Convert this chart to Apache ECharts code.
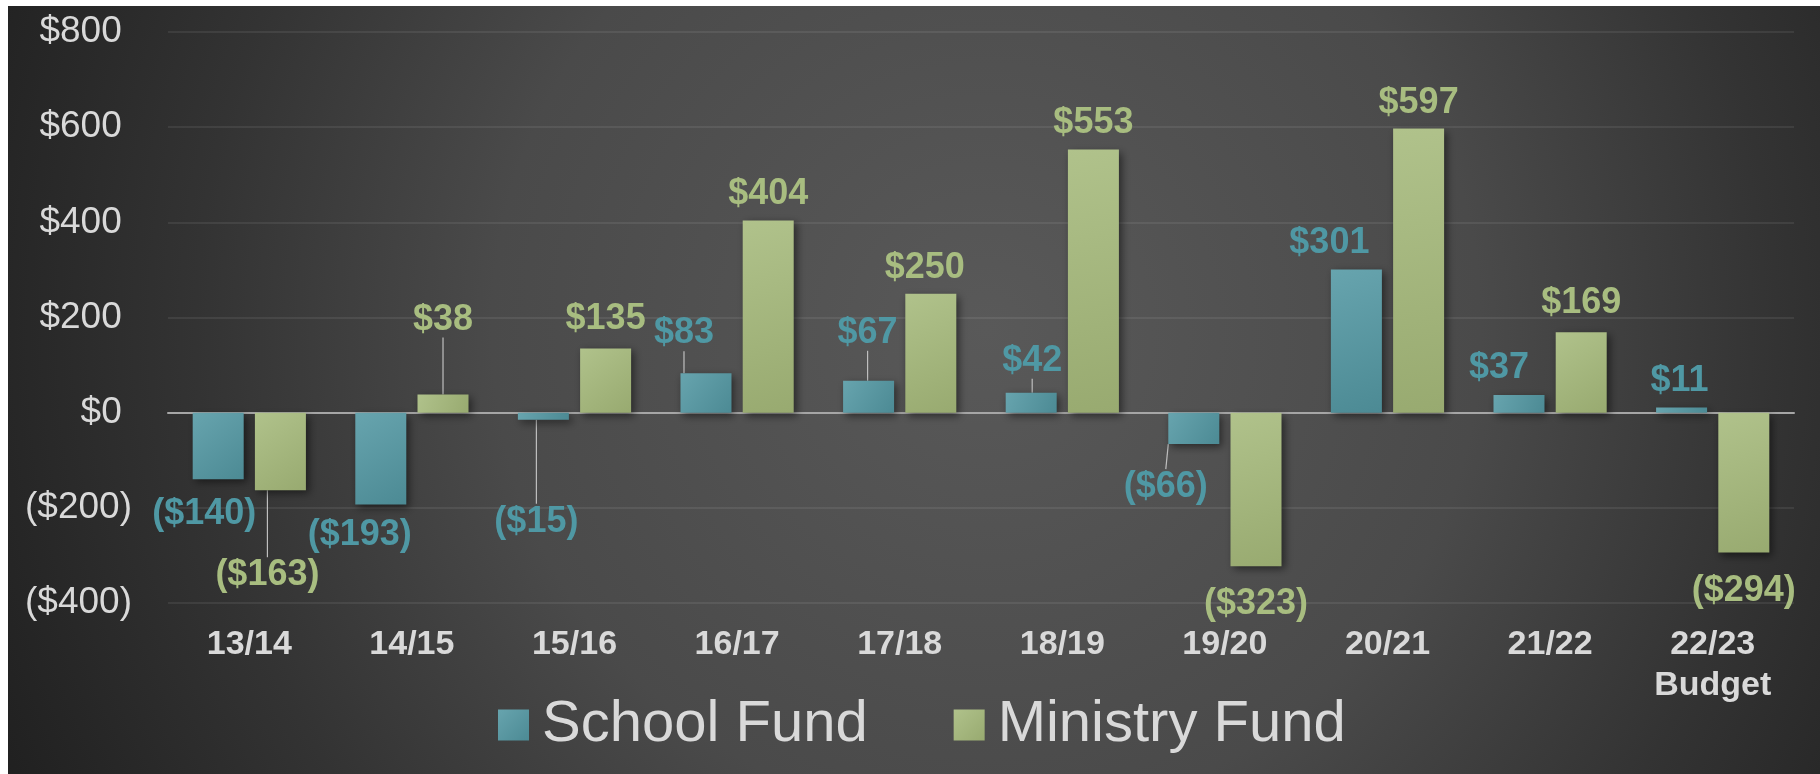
<!DOCTYPE html>
<html>
<head>
<meta charset="utf-8">
<script src="https://cdn.jsdelivr.net/npm/echarts@6/dist/echarts.min.js"></script>
<style>
  html, body { margin: 0; padding: 0; background: #fff; }
  #box { position: absolute; left: 8px; top: 6px; width: 1812px; height: 768px; }
</style>
</head>
<body>
<div id="box"></div>
<script>
var years = ['13/14', '14/15', '15/16', '16/17', '17/18', '18/19', '19/20', '20/21', '21/22', '22/23\nBudget'];
var schoolFund = [-140, -193, -15, 83, 67, 42, -66, 301, 37, 11];
var ministryFund = [-163, 38, 135, 404, 250, 553, -323, 597, 169, -294];
var yTicks = { min: -400, max: 800, step: 200 };

// where the labels were dragged to in the original (dx, dy), and which ones have a leader line
var schoolNudge = [[-14, 6], [-21, 2], [-7, 73], [-22, -11], [-1, -19], [1, -3], [-28, 14], [-27, 3], [-20, 2], [-2, 3]];
var ministryNudge = [[-13, 56], [0, -46], [0, 0], [0, 3], [-6, 3], [0, 3], [0, 9], [0, 3], [0, 0], [0, 10]];
var schoolLines = [2, 3, 4, 5, 6];
var ministryLines = [0, 1];

var font = '"Liberation Sans", Arial, sans-serif';

function money(v) {
  return v < 0 ? '($' + Math.abs(v) + ')' : '$' + v;
}

function items(values, lines) {
  return values.map(function(v, i) {
    if (lines.indexOf(i) < 0) return v;
    return { value: v, labelLine: { show: true, lineStyle: { color: '#bfbfbf', width: 1.2 } } };
  });
}

var chart = echarts.init(document.getElementById('box'));

option = {
  backgroundColor: {
    type: 'radial', x: 0.54, y: 0.42, r: 1.43,
    colorStops: [
      { offset: 0, color: '#595959' },
      { offset: 0.45, color: '#4a4a4a' },
      { offset: 0.72, color: '#333333' },
      { offset: 0.9, color: '#262626' },
      { offset: 1, color: '#1f1f1f' }
    ]
  },
  textStyle: { fontFamily: font },
  grid: { left: 160, right: 26, top: 26, bottom: 171 },
  legend: {
    left: 485,
    top: 685,
    icon: 'rect',
    itemWidth: 31,
    itemHeight: 31,
    itemGap: 86,
    textStyle: { color: '#d9d9d9', fontSize: 58, fontFamily: font, padding: [0, 0, 0, 8] },
    data: ['School Fund', 'Ministry Fund']
  },
  xAxis: {
    type: 'category',
    data: years,
    axisTick: { show: false },
    axisLine: { lineStyle: { color: '#a6a6a6', width: 2 } },
    axisLabel: {
      color: '#d9d9d9', fontSize: 34, fontWeight: 'bold', fontFamily: font,
      lineHeight: 41, margin: 21, interval: 0
    }
  },
  yAxis: {
    type: 'value',
    min: yTicks.min,
    max: yTicks.max,
    interval: yTicks.step,
    axisLine: { show: false },
    axisTick: { show: false },
    splitLine: { lineStyle: { color: 'rgba(255,255,255,0.1)', width: 1.5 } },
    axisLabel: {
      color: '#d9d9d9', fontSize: 37, fontFamily: font, margin: 36,
      formatter: function(v) { return v < 0 ? money(v) : money(v) + ' '; }
    }
  },
  labelLayout: function(p) {
    var n = (p.seriesIndex === 0 ? schoolNudge : ministryNudge)[p.dataIndex];
    return { dx: n[0], dy: n[1] };
  },
  series: [{
      name: 'School Fund',
      type: 'bar',
      barWidth: 51,
      barGap: '22%',
      data: items(schoolFund, schoolLines),
      itemStyle: {
        color: new echarts.graphic.LinearGradient(0, 0, 1, 1, [
          { offset: 0, color: '#67a4ae' }, { offset: 1, color: '#4c8a94' }
        ]),
        shadowBlur: 8, shadowColor: 'rgba(0,0,0,0.5)', shadowOffsetX: 3, shadowOffsetY: 3
      },
      label: {
        show: true, position: 'outside', distance: 11,
        color: '#4f98a4', fontSize: 36, fontWeight: 'bold', fontFamily: font,
        formatter: function(p) { return money(p.value); }
      }
    },
    {
      name: 'Ministry Fund',
      type: 'bar',
      barWidth: 51,
      barGap: '22%',
      data: items(ministryFund, ministryLines),
      itemStyle: {
        color: new echarts.graphic.LinearGradient(0, 0, 1, 1, [
          { offset: 0, color: '#b0c28b' }, { offset: 1, color: '#98aa70' }
        ]),
        shadowBlur: 8, shadowColor: 'rgba(0,0,0,0.5)', shadowOffsetX: 3, shadowOffsetY: 3
      },
      label: {
        show: true, position: 'outside', distance: 11,
        color: '#a8bd80', fontSize: 36, fontWeight: 'bold', fontFamily: font,
        formatter: function(p) { return money(p.value); }
      }
    }
  ]
};

chart.setOption(option);
</script>
</body>
</html>
